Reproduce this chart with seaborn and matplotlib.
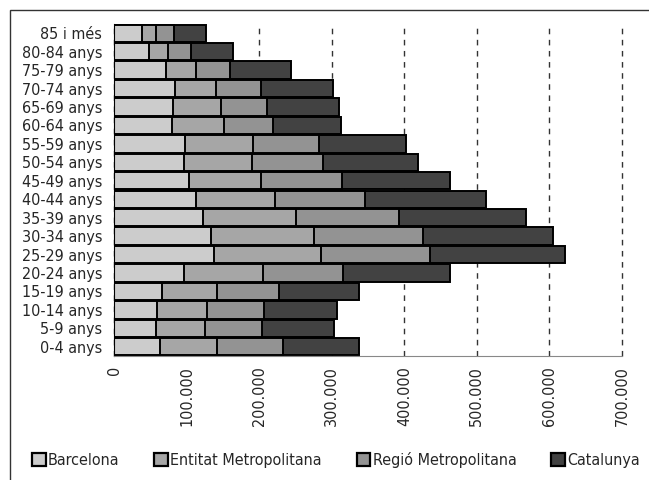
import matplotlib
matplotlib.use('Agg')
import matplotlib.pyplot as plt
from matplotlib import font_manager as fm
from matplotlib.patches import Patch, Rectangle
from matplotlib.ticker import FuncFormatter, FixedLocator
import seaborn as sns
import pandas as pd
import numpy as np

# age groups, top of chart first
ages = ['85 i més', '80-84 anys', '75-79 anys', '70-74 anys', '65-69 anys', '60-64 anys',
        '55-59 anys', '50-54 anys', '45-49 anys', '40-44 anys', '35-39 anys', '30-34 anys',
        '25-29 anys', '20-24 anys', '15-19 anys', '10-14 anys', '5-9 anys', '0-4 anys']

barcelona = [38600, 47800, 71200, 83600, 80900, 79500, 97800, 96000, 103300, 112600,
             123100, 133700, 137400, 96500, 65700, 58800, 57400, 63400]
entitat = [19300, 27000, 41400, 57400, 66100, 72100, 93700, 93700, 99300, 108800,
           128100, 141500, 147800, 108800, 76700, 68900, 68000, 78500]
regio = [24300, 31700, 47200, 61100, 64300, 67000, 90500, 98300, 111600, 124500,
         141100, 150600, 149800, 110300, 84500, 79000, 79000, 90600]
catalunya = [44600, 57900, 84100, 100100, 98700, 94200, 120800, 130900, 148800, 166700,
             175400, 179100, 186500, 147400, 110300, 101000, 98300, 105100]

series = ['Barcelona', 'Entitat Metropolitana', 'Regió Metropolitana', 'Catalunya']
colors = ['#cccccc', '#a6a6a6', '#939393', '#424242']

df = pd.DataFrame({'edat': ages, 'Barcelona': barcelona, 'Entitat Metropolitana': entitat,
                   'Regió Metropolitana': regio, 'Catalunya': catalunya})
cum = df[series].cumsum(axis=1)
cum['edat'] = df['edat']

sns.set_style('white')

# the original uses a narrow font; take a condensed face if one is installed
def pick_font():
    fonts = fm.fontManager.ttflist
    for f in fonts:
        if f.name == 'Liberation Sans Narrow' and f.weight in (400, 'normal') and f.style == 'normal':
            return f.name, 'normal'
    for fam in ['Noto Sans', 'Open Sans', 'DejaVu Sans']:
        for f in fonts:
            if (f.name == fam and f.stretch in ('condensed', 'semi-condensed')
                    and f.weight in (400, 'normal') and f.style == 'normal'):
                return f.name, f.stretch
    return 'DejaVu Sans', 'normal'

fam, stretch = pick_font()
plt.rcParams['font.family'] = [fam, 'DejaVu Sans']
plt.rcParams['font.stretch'] = stretch
fsize = 11.5

fig = plt.figure(figsize=(6.49, 4.8), dpi=100)
ax = fig.add_axes([114 / 649, 1 - 356 / 480, (622 - 114) / 649, (356 - 24) / 480])

# draw cumulative totals from largest to smallest so they stack
for name, col in reversed(list(zip(series, colors))):
    sns.barplot(data=cum, y='edat', x=name, orient='h', order=ages, color=col,
                saturation=1, width=0.94, edgecolor='black', linewidth=1.4, ax=ax)

ax.set_xlim(0, 700000)
ax.set_ylim(len(ages) - 0.5, -0.5)
ax.set_xlabel('')
ax.set_ylabel('')
ax.set_xticks(np.arange(0, 700001, 100000))
ax.xaxis.set_major_formatter(FuncFormatter(lambda v, p: f'{int(v):,}'.replace(',', '.')))
ax.tick_params(axis='x', labelrotation=90, length=4, color='#888888', labelsize=fsize, pad=3)
ax.tick_params(axis='y', which='major', length=0, labelsize=fsize, pad=8.5)
ax.yaxis.set_minor_locator(FixedLocator(np.arange(-0.5, len(ages), 1)))
ax.tick_params(axis='y', which='minor', length=4, color='black', width=1)

ax.set_axisbelow(True)
ax.xaxis.grid(True, linestyle=(0, (4, 4)), color='#333333', linewidth=1)
for gl in ax.get_xgridlines():
    gl.set_clip_on(False)
ax.yaxis.grid(False)
ax.spines['top'].set_visible(False)
ax.spines['right'].set_visible(False)
ax.spines['left'].set_color('black')
ax.spines['bottom'].set_color('#888888')

# frame around the whole chart
fig.patches.append(Rectangle((10 / 649, -0.1), 1.0, 1 - 10 / 480 + 0.1, transform=fig.transFigure,
                             fill=False, edgecolor='#333333', linewidth=1))

handles = [Patch(facecolor=c, edgecolor='black', linewidth=1.6) for c in colors]
fig.legend(handles, series, loc='center left', ncol=4, mode='expand',
           bbox_to_anchor=(32 / 649, 20 / 480, 608 / 649, 0.001), frameon=False,
           fontsize=fsize, handlelength=0.85, handleheight=0.85, handletextpad=0.15,
           borderaxespad=0, borderpad=0)

fig.savefig('out.png', dpi=100)
